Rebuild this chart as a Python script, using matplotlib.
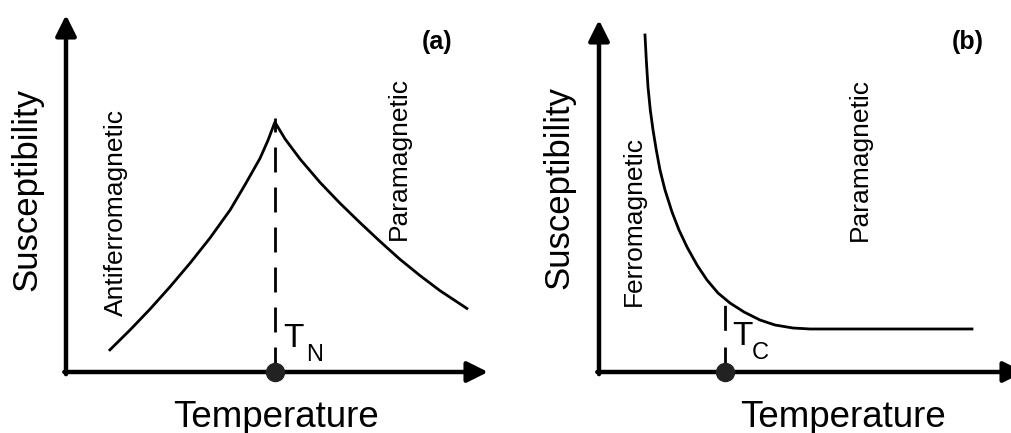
import matplotlib
matplotlib.use("Agg")
import matplotlib.pyplot as plt

plt.rcParams['font.family'] = ['Liberation Sans', 'DejaVu Sans']

# (a) antiferromagnet: susceptibility vs temperature, peak at T_N
afm_t = [1.04, 1.52, 1.99, 2.46, 2.94, 3.41, 3.89, 4.24, 4.60, 4.79, 4.95,
         5.19, 5.55, 6.02, 6.49, 6.97, 7.44, 7.91, 8.39, 8.86, 9.50]
afm_chi = [0.62, 1.18, 1.76, 2.38, 3.05, 3.75, 4.54, 5.24, 5.99, 6.50, 7.00,
           6.53, 5.96, 5.31, 4.73, 4.18, 3.66, 3.16, 2.70, 2.28, 1.78]
t_neel = 4.95
neel_top = 7.11

# (b) ferromagnet: susceptibility vs temperature, flat above T_C
fm_t = [1.082, 1.113, 1.153, 1.207, 1.271, 1.348, 1.435, 1.553, 1.718, 1.882,
        2.071, 2.306, 2.541, 2.800, 3.082, 3.412, 3.788, 4.141, 4.565, 4.965,
        8.776]
fm_chi = [9.574, 8.864, 8.097, 7.443, 6.875, 6.307, 5.739, 5.170, 4.545, 4.034,
          3.551, 3.040, 2.614, 2.244, 1.960, 1.705, 1.477, 1.335, 1.250, 1.222,
          1.222]
t_curie = 2.96
curie_top = 1.90

W, H = 1011, 433
fig = plt.figure(figsize=(W / 100, H / 100), dpi=100)


def make_axes(x0, y0, x1, y1):
    # pixel box -> figure fraction (y measured from top)
    ax = fig.add_axes([x0 / W, (H - y0) / H, (x1 - x0) / W, (y0 - y1) / H])
    ax.set_xlim(0, 10)
    ax.set_ylim(0, 10)
    ax.axis('off')
    arrow = dict(arrowstyle='-|>,head_length=1.0,head_width=0.5', lw=3.2,
                 color='black', mutation_scale=12.5, shrinkA=0, shrinkB=0)
    ax.annotate('', xy=(0, 1), xytext=(0, -0.006), xycoords='axes fraction',
                arrowprops=arrow, annotation_clip=False)
    ax.annotate('', xy=(1, 0), xytext=(-0.004, 0), xycoords='axes fraction',
                arrowprops=arrow, annotation_clip=False)
    return ax


ax1 = make_axes(66, 372, 488, 15)
ax2 = make_axes(599, 372, 1024, 20)

# panel (a)
ax1.plot(afm_t, afm_chi, color='black', lw=2, clip_on=False,
         solid_joinstyle='round')
ax1.plot([t_neel, t_neel], [0, neel_top], color='black', lw=2,
         dashes=(9, 5.4), clip_on=False)
ax1.plot([t_neel], [0], 'o', color='#222222', ms=13, clip_on=False, zorder=5)

ax1.text(5.14, 0.70, 'T', fontsize=24, ha='left', va='baseline')
ax1.text(5.70, 0.32, 'N', fontsize=17, ha='left', va='baseline')
ax1.text(4.98, -1.54, 'Temperature', fontsize=26.5, ha='center', va='baseline')
ax1.text(-0.92, 5.10, 'Susceptibility', fontsize=25, rotation=90,
         ha='center', va='center')
ax1.text(1.18, 4.48, 'Antiferromagnetic', fontsize=19, rotation=90,
         ha='center', va='center')
ax1.text(7.89, 5.99, 'Paramagnetic', fontsize=19, rotation=90,
         ha='center', va='center')
ax1.text(8.79, 9.24, '(a)', fontsize=18, fontweight='bold',
         ha='center', va='center')

# panel (b)
ax2.plot(fm_t, fm_chi, color='black', lw=2, clip_on=False,
         solid_joinstyle='round')
ax2.plot([t_curie, t_curie], [0, curie_top], color='black', lw=2,
         dashes=(9, 6), clip_on=False)
ax2.plot([t_curie], [0], 'o', color='#222222', ms=13, clip_on=False, zorder=5)

ax2.text(3.13, 0.77, 'T', fontsize=24, ha='left', va='baseline')
ax2.text(3.60, 0.38, 'C', fontsize=17, ha='left', va='baseline')
ax2.text(5.74, -1.56, 'Temperature', fontsize=26.5, ha='center', va='baseline')
ax2.text(-0.94, 5.23, 'Susceptibility', fontsize=25, rotation=90,
         ha='center', va='center')
ax2.text(0.82, 4.29, 'Ferromagnetic', fontsize=19, rotation=90,
         ha='center', va='center')
ax2.text(6.14, 6.05, 'Paramagnetic', fontsize=19, rotation=90,
         ha='center', va='center')
ax2.text(8.68, 9.38, '(b)', fontsize=18, fontweight='bold',
         ha='center', va='center')

fig.savefig('out.png', dpi=100)
